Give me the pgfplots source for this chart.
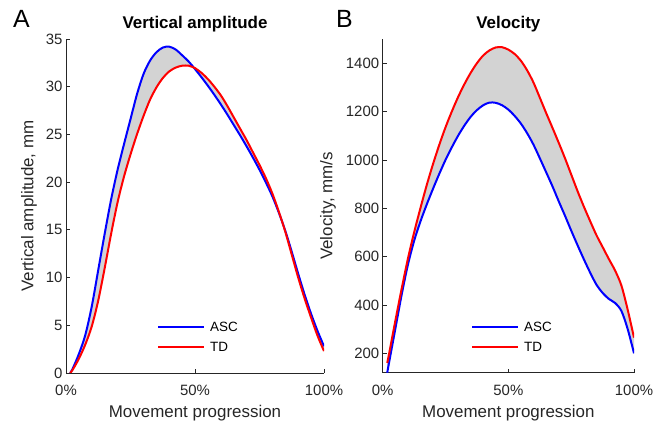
\documentclass[border=0pt]{standalone}
\usepackage{fontspec}
\setmainfont{Liberation Sans}
\usepackage{pgfplots}
\pgfplotsset{compat=1.18}
\usepackage{pgfplotstable}
\usepgfplotslibrary{fillbetween}
\definecolor{axgray}{RGB}{38,38,38}
\definecolor{fillgray}{RGB}{211,211,211}

\pgfplotstableread{
x y
1.6 0
2.5 0.4
5 2.0
7.5 4.0
10 7.0
12.5 10.8
15 14.6
17.5 18.2
20 21.3
22.5 24.0
25 26.6
27.5 29.2
30 31.3
32.5 32.7
35 33.6
37.5 34.1
40 34.2
42.5 33.9
45 33.3
47.5 32.65
50 31.85
52.5 31.0
55 30.1
57.5 29.15
60 28.15
62.5 27.1
65 26.0
67.5 24.9
70 23.75
72.5 22.55
75 21.3
77.5 19.95
80 18.5
82.5 16.8
85 14.9
87.5 12.7
90 10.4
92.5 8.2
95 6.2
97.5 4.4
100 2.8
}\ascA

\pgfplotstableread{
x y
1.6 0
2.5 0.3
5 1.5
7.5 3.0
10 4.9
12.5 7.6
15 11.0
17.5 14.6
20 17.9
22.5 20.6
25 22.9
27.5 25.0
30 26.9
32.5 28.6
35 29.9
37.5 30.9
40 31.6
42.5 32.0
45 32.2
47.5 32.2
50 31.95
52.5 31.45
55 30.8
57.5 30.0
60 29.1
62.5 28.0
65 26.8
67.5 25.6
70 24.4
72.5 23.1
75 21.8
77.5 20.4
80 18.8
82.5 16.9
85 14.8
87.5 12.4
90 10.0
92.5 7.8
95 5.8
97.5 3.9
100 2.3
}\tdA

\pgfplotstableread{
x y
1.8 120
2.5 160
5 300
7.5 440
10 565
12.5 665
15 745
17.5 815
20 880
22.5 942
25 1000
27.5 1052
30 1100
32.5 1142
35 1178
37.5 1206
40 1226
42.5 1237
45 1236
47.5 1226
50 1208
52.5 1182
55 1150
57.5 1110
60 1063
62.6 1005
65 950
67.5 892
70 830
72.5 770
75 708
77.5 648
80 590
82.5 535
85 485
87.5 450
90 425
92.5 408
95 375
97.5 300
100 200
}\ascB

\pgfplotstableread{
x y
1.8 160
2.5 196
5 333
7.5 465
10 590
12.5 700
15 800
17.5 895
20 982
22.5 1062
25 1135
27.5 1200
30 1260
32.5 1313
35 1360
37.5 1400
40 1432
42.5 1453
45 1465
47.5 1466
50 1456
52.5 1438
55 1410
57.5 1370
60 1320
62.5 1258
65 1195
67.5 1134
70 1072
72.5 1008
75 940
77.5 872
80 808
82.5 748
85 690
87.5 640
90 590
92.5 542
95 480
97.5 380
100 265
}\tdB

\pgfplotsset{
  mystyle/.style={
    scale only axis,
    axis x line*=bottom, axis y line*=left,
    axis line style={axgray, line width=0.8bp},
    tick style={axgray, line width=0.8bp},
    major tick length=4bp, tick align=inside,
    xmin=0, xmax=100, xtick={0,50,100},
    xticklabels={0\%,50\%,100\%},
    ticklabel style={font=\fontsize{15}{18}\selectfont, text=axgray},
    /pgf/number format/assume math mode=true,
    /pgf/number format/1000 sep={},
    scaled y ticks=false,
    xticklabel style={anchor=base, yshift=-22.5bp},
    label style={font=\fontsize{17}{20}\selectfont, text=axgray, inner sep=0pt},
    xlabel style={at={(rel axis cs:0.5,0)}, anchor=base, yshift=-44.5bp},
    every axis title shift=0pt,
    title style={font=\bfseries\fontsize{17}{20}\selectfont, anchor=base, at={(rel axis cs:0.5,1)}, yshift=10bp, inner sep=0pt},
    legend image code/.code={\draw[##1] (0bp,0bp) -- (46bp,0bp);},
    legend style={draw=none, fill=none, font=\fontsize{13.5}{16}\selectfont,
      anchor=west, inner sep=0pt, row sep=8bp, column sep=4bp,
      nodes={inner sep=1bp, text height=10bp, text depth=0bp}},
    legend cell align=left,
  }
}

\begin{document}
\begin{tikzpicture}
\begin{axis}[mystyle,
  at={(66bp,50bp)}, anchor=south west,
  width=258bp, height=334bp,
  ymin=0, ymax=35, ytick={0,5,...,35},
  title={Vertical amplitude},
  xlabel={Movement progression},
  ylabel={Vertical amplitude, mm},
  ylabel style={at={(rel axis cs:-0.1434,0.5)}, anchor=center},
  legend style={at={(rel axis cs:0.3527,0.1078)}},
]
\addplot[draw=none, name path=a1, smooth, forget plot] table {\ascA};
\addplot[draw=none, name path=b1, smooth, forget plot] table {\tdA};
\addplot[fill=fillgray, draw=none, forget plot] fill between[of=a1 and b1];
\addplot[blue, line width=2bp, smooth] table {\ascA};
\addlegendentry{ASC}
\addplot[red, line width=2bp, smooth] table {\tdA};
\addlegendentry{TD}
\end{axis}

\begin{axis}[mystyle,
  at={(382.7bp,50.3bp)}, anchor=south west,
  width=251.3bp, height=333.7bp,
  ymin=120, ymax=1500, ytick={200,400,...,1400},
  title={Velocity},
  xlabel={Movement progression},
  ylabel={Velocity, mm/s},
  ylabel style={at={(rel axis cs:-0.2177,0.5)}, anchor=center},
  legend style={at={(rel axis cs:0.3514,0.107)}},
]
\addplot[draw=none, name path=a2, smooth, forget plot] table {\ascB};
\addplot[draw=none, name path=b2, smooth, forget plot] table {\tdB};
\addplot[fill=fillgray, draw=none, forget plot] fill between[of=a2 and b2];
\addplot[blue, line width=2bp, smooth] table {\ascB};
\addlegendentry{ASC}
\addplot[red, line width=2bp, smooth] table {\tdB};
\addlegendentry{TD}
\end{axis}

\node[anchor=base west, inner sep=0pt, font=\fontsize{25}{30}\selectfont] at (13bp,395bp) {A};
\node[anchor=base west, inner sep=0pt, font=\fontsize{25}{30}\selectfont] at (336bp,395bp) {B};
\path (0,0) rectangle (668bp,423bp);
\end{tikzpicture}
\end{document}
